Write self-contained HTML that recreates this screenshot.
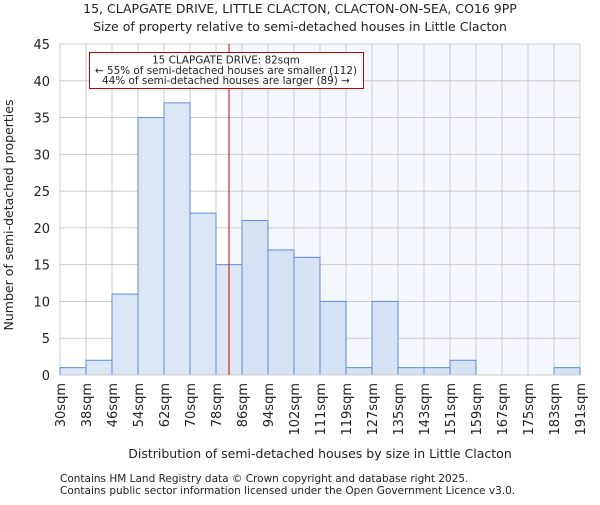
<!DOCTYPE html>
<html><head><meta charset="utf-8"><style>
body{margin:0;background:#fff}
svg text{font-family:"DejaVu Sans","Liberation Sans",sans-serif;fill:#222}
</style></head><body>
<svg id="c" width="600" height="500" viewBox="0 0 600 500" xmlns="http://www.w3.org/2000/svg">
<text x="300" y="13" font-size="12.5" text-anchor="middle">15, CLAPGATE DRIVE, LITTLE CLACTON, CLACTON-ON-SEA, CO16 9PP</text>
<text x="300" y="31" font-size="12.5" text-anchor="middle">Size of property relative to semi-detached houses in Little Clacton</text>
<g id="plot"></g>
<text x="320" y="458" font-size="12.5" text-anchor="middle">Distribution of semi-detached houses by size in Little Clacton</text>
<text transform="translate(13,215) rotate(-90)" font-size="12.5" text-anchor="middle">Number of semi-detached properties</text>
<text x="60" y="482" font-size="10.5">Contains HM Land Registry data © Crown copyright and database right 2025.</text>
<text x="60" y="494" font-size="10.5">Contains public sector information licensed under the Open Government Licence v3.0.</text>
</svg>
<script>
const binLabels=["30sqm","38sqm","46sqm","54sqm","62sqm","70sqm","78sqm","86sqm","94sqm","102sqm","111sqm","119sqm","127sqm","135sqm","143sqm","151sqm","159sqm","167sqm","175sqm","183sqm","191sqm"];
const counts=[1,2,11,35,37,22,15,21,17,16,10,1,10,1,1,2,0,0,0,1];
const yTicks=[0,5,10,15,20,25,30,35,40,45];
const markerBin=6.5;
const L=60,R=580,T=44,B=375,yMax=45;
const NS="http://www.w3.org/2000/svg";
const g=document.getElementById('plot');
const n=counts.length;
const x=i=>L+(R-L)*i/n;
const y=v=>B-(B-T)*v/yMax;
function mk(t,a){const e=document.createElementNS(NS,t);for(const k in a)e.setAttribute(k,a[k]);g.appendChild(e);return e;}
const mx=x(markerBin);
let e=mk('rect',{x:mx,y:T,width:R-mx,height:B-T,fill:'#f4f7fd'});


yTicks.forEach(v=>{let l=mk('line',{x1:L,x2:R,y1:y(v),y2:y(v),stroke:'#ccc','stroke-width':1});


let t=mk('text',{x:L-10,y:y(v)+5,'font-size':13,'text-anchor':'end'});t.textContent=v;

});
binLabels.forEach((s,i)=>{let l=mk('line',{x1:x(i),x2:x(i),y1:T,y2:B,stroke:'#ccc','stroke-width':1});


let t=mk('text',{transform:`translate(${x(i)+5},${B+8}) rotate(-90)`,'font-size':13,'text-anchor':'end'});t.textContent=s;

});
counts.forEach((v,i)=>{if(v<=0)return;let r=mk('rect',{x:x(i),y:y(v),width:x(i+1)-x(i),height:B-y(v),fill:i>=7?'#d6e2f3':'#dce6f4',stroke:'#5b8fd6','stroke-width':1});

});
e=mk('line',{x1:L,x2:R,y1:B,y2:B,stroke:'#ccc'});


e=mk('line',{x1:mx,x2:mx,y1:T,y2:B,stroke:'#cc0000','stroke-width':1});


e=mk('rect',{x:89.5,y:52.5,width:274,height:36,fill:'#fff',stroke:'#cc0000','stroke-width':1});


["15 CLAPGATE DRIVE: 82sqm","← 55% of semi-detached houses are smaller (112)","44% of semi-detached houses are larger (89) →"].forEach((s,k)=>{let t=mk('text',{x:226,y:63.5+k*10.3,'font-size':10.4,'text-anchor':'middle'});t.textContent=s;

});
</script>
</body></html>
